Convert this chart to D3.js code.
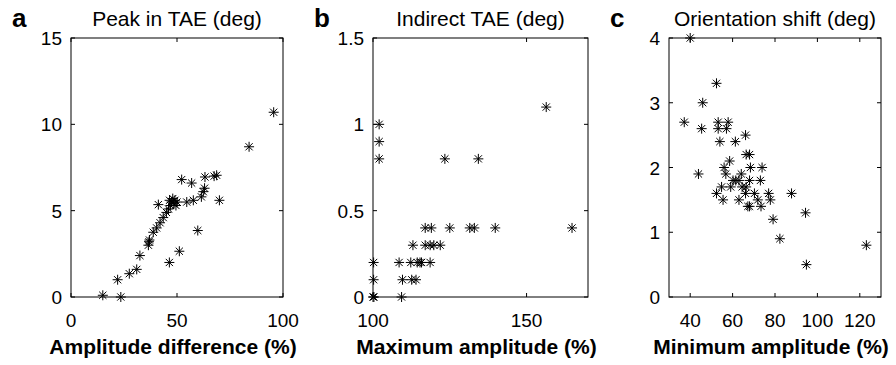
<!DOCTYPE html>
<html>
<head>
<meta charset="utf-8">
<script src="https://cdn.jsdelivr.net/npm/d3@7"></script>
<style>
  body { margin: 0; background: #fff; }
  svg { display: block; font-family: "Liberation Sans", Arial, sans-serif; }
</style>
</head>
<body>
<svg width="896" height="365"></svg>
<script>
// Panel a: amplitude difference (%) vs peak in TAE (deg)
const ampDiff = [15, 23.5, 22, 27.5, 31, 32.5, 36.5, 36.8, 37, 38.8, 40.4, 42, 43.5, 45, 46, 41.2, 47, 47.5, 48.5, 49, 50, 48, 49.5, 46.5, 46.4, 51.1, 52.2, 54.6, 57.7, 56.9, 59.8, 61.5, 62.4, 63, 63.2, 67.5, 68.7, 70, 84, 95.6];
const peakTAE = [0.1, 0, 1.0, 1.35, 1.6, 2.4, 3.0, 3.2, 3.3, 3.75, 4.0, 4.3, 4.6, 4.9, 5.1, 5.35, 5.3, 5.5, 5.4, 5.6, 5.5, 5.7, 5.3, 5.6, 2.0, 2.65, 6.8, 5.5, 5.6, 6.6, 3.85, 5.8, 6.1, 6.3, 6.95, 7.0, 7.05, 5.6, 8.7, 10.7];

// Panel b: maximum amplitude (%) vs indirect TAE (deg)
const maxAmp = [102, 102, 102, 123.4, 134.3, 156.4, 164.8,
  117, 119, 125, 131.5, 133, 139.8,
  113, 117, 118.6, 119.8, 121.9,
  100.2, 108.5, 112.3, 114.4, 115.3, 115.8, 118.6,
  100.2, 109.6, 112.6, 114,
  100, 100.3, 109.3];
const indirectTAE = [1.0, 0.9, 0.8, 0.8, 0.8, 1.1, 0.4,
  0.4, 0.4, 0.4, 0.4, 0.4, 0.4,
  0.3, 0.3, 0.3, 0.3, 0.3,
  0.2, 0.2, 0.2, 0.2, 0.2, 0.2, 0.2,
  0.1, 0.1, 0.1, 0.1,
  0, 0, 0];

// Panel c: minimum amplitude (%) vs orientation shift (deg)
const minAmp = [40, 52.4, 45.9, 37.2, 45.4, 53.2, 53.2, 57.9, 57.1, 54, 61.3, 66.1, 66.4, 68, 58.6, 43.9, 56, 56.8, 68.4, 73.9,
  60.2, 61.5, 64.1, 63, 68, 73.1, 54.8, 59.1, 64.5, 66.4, 52.4, 66.1, 70.3, 77, 87.8, 55.5, 63, 71.9, 77.8, 67.2, 68, 73.4,
  79.1, 82.3, 94.4, 94.8, 123.1];
const orientShift = [4.0, 3.3, 3.0, 2.7, 2.6, 2.7, 2.6, 2.7, 2.6, 2.4, 2.4, 2.5, 2.2, 2.2, 2.1, 1.9, 2.0, 1.9, 2.0, 2.0,
  1.8, 1.8, 1.9, 1.8, 1.8, 1.8, 1.7, 1.7, 1.7, 1.7, 1.6, 1.6, 1.6, 1.6, 1.6, 1.5, 1.5, 1.5, 1.5, 1.4, 1.4, 1.4,
  1.2, 0.9, 1.3, 0.5, 0.8];

const panels = [
  {letter: "a", title: "Peak in TAE (deg)", xlabel: "Amplitude difference (%)",
   xs: ampDiff, ys: peakTAE, xdom: [0, 100], ydom: [0, 15],
   xticks: [0, 50, 100], yticks: [0, 5, 10, 15], left: 71, right: 283},
  {letter: "b", title: "Indirect TAE (deg)", xlabel: "Maximum amplitude (%)",
   xs: maxAmp, ys: indirectTAE, xdom: [100, 170], ydom: [0, 1.5],
   xticks: [100, 150], yticks: [0, 0.5, 1, 1.5], left: 373, right: 588},
  {letter: "c", title: "Orientation shift (deg)", xlabel: "Minimum amplitude (%)",
   xs: minAmp, ys: orientShift, xdom: [30, 130], ydom: [0, 4],
   xticks: [40, 60, 80, 100, 120], yticks: [0, 1, 2, 3, 4], left: 669, right: 881}
];

const svg = d3.select("svg");
const plotTop = 38, plotBottom = 297, tickLen = 4;

// MATLAB-style '*' marker
const r = 5, dg = r * 0.72;
const star = `M${-r},0L${r},0M0,${-r}L0,${r}M${-dg},${-dg}L${dg},${dg}M${-dg},${dg}L${dg},${-dg}`;

panels.forEach(p => {
  const x = d3.scaleLinear().domain(p.xdom).range([p.left, p.right]);
  const y = d3.scaleLinear().domain(p.ydom).range([plotBottom, plotTop]);
  const g = svg.append("g");

  // box
  g.append("rect")
   .attr("x", p.left).attr("y", plotTop)
   .attr("width", p.right - p.left).attr("height", plotBottom - plotTop)
   .attr("fill", "none").attr("stroke", "#000").attr("stroke-width", 1);

  // ticks inside, mirrored on all four sides
  p.xticks.forEach(t => {
    g.append("line").attr("x1", x(t)).attr("x2", x(t)).attr("y1", plotBottom).attr("y2", plotBottom - tickLen).attr("stroke", "#000");
    g.append("line").attr("x1", x(t)).attr("x2", x(t)).attr("y1", plotTop).attr("y2", plotTop + tickLen).attr("stroke", "#000");
  });
  p.yticks.forEach(t => {
    g.append("line").attr("x1", p.left).attr("x2", p.left + tickLen).attr("y1", y(t)).attr("y2", y(t)).attr("stroke", "#000");
    g.append("line").attr("x1", p.right).attr("x2", p.right - tickLen).attr("y1", y(t)).attr("y2", y(t)).attr("stroke", "#000");
  });

  // tick labels
  g.selectAll(".xt").data(p.xticks).enter().append("text")
   .attr("x", d => x(d)).attr("y", plotBottom + 30)
   .attr("text-anchor", "middle").style("font-size", "19px")
   .text(d => d);
  g.selectAll(".yt").data(p.yticks).enter().append("text")
   .attr("x", p.left - 9).attr("y", d => y(d) + 7)
   .attr("text-anchor", "end").style("font-size", "19px")
   .text(d => d);

  // titles and labels
  g.append("text")
   .attr("x", (p.left + p.right) / 2).attr("y", 26)
   .attr("text-anchor", "middle").style("font-size", "21px")
   .text(p.title);
  g.append("text")
   .attr("x", (p.left + p.right) / 2 - 4).attr("y", 354)
   .attr("text-anchor", "middle").style("font-size", "21px").style("font-weight", "bold")
   .text(p.xlabel);
  g.append("text")
   .attr("x", p.left - 59).attr("y", 27)
   .style("font-size", "26px").style("font-weight", "bold")
   .text(p.letter);

  // points
  g.selectAll(".pt").data(d3.zip(p.xs, p.ys)).enter().append("path")
   .attr("transform", d => `translate(${x(d[0])},${y(d[1])})`)
   .attr("d", star)
   .attr("fill", "none").attr("stroke", "#000").attr("stroke-width", 1);
});
</script>
</body>
</html>
